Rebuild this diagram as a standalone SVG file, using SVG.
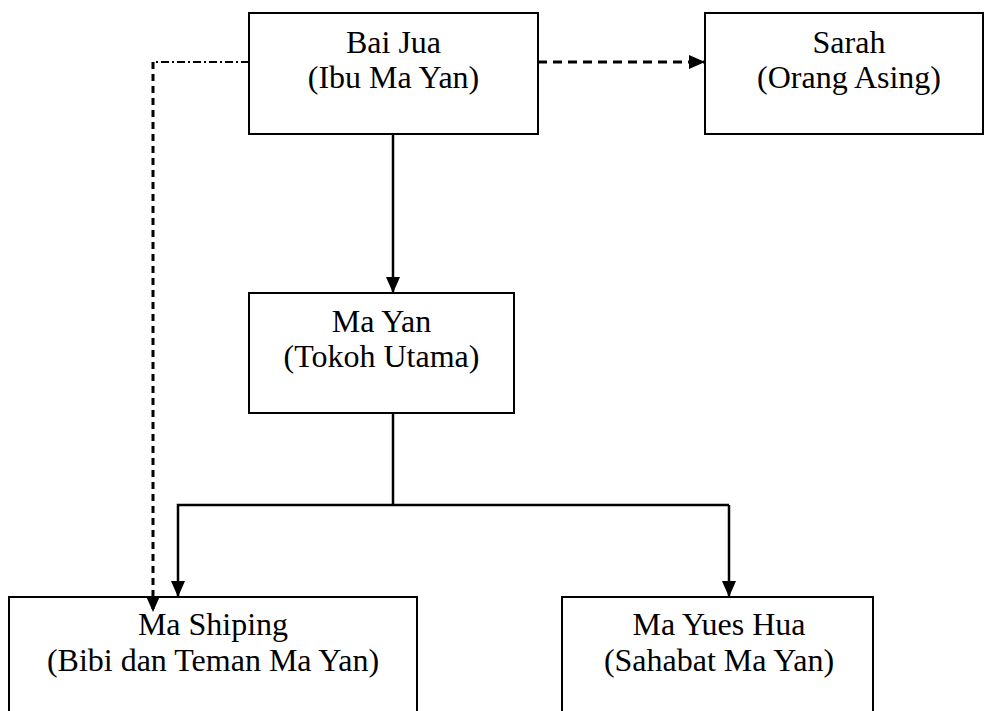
<svg xmlns="http://www.w3.org/2000/svg" width="984" height="711" viewBox="0 0 984 711">
<style>
.box{fill:#fff;stroke:#000;stroke-width:2}
.t{font-family:"Liberation Serif","Times New Roman",serif;font-size:32px;fill:#000;text-anchor:middle}
.c{fill:none;stroke:#000;stroke-width:2.5}
.dash{stroke-width:3;stroke-dasharray:7 5}
.dash2{stroke-width:3;stroke-dasharray:9 6}
.dd{stroke-width:2;stroke-dasharray:8 3 2 3}
</style>
<defs>
<marker id="ah" markerUnits="userSpaceOnUse" markerWidth="16" markerHeight="16" viewBox="0 0 16 16" refX="16" refY="8" orient="auto">
<path d="M0,1 L16,8 L0,15 Z" fill="#000"/>
</marker>
</defs>
<rect width="984" height="711" fill="#fff"/>
<g id="bai-jua">
<rect class="box" x="249" y="13" width="289" height="121"/>
<text class="t" x="393.5" y="53">Bai Jua</text>
<text class="t" x="393.5" y="88">(Ibu Ma Yan)</text>
</g>
<g id="sarah">
<rect class="box" x="705" y="13" width="278" height="121"/>
<text class="t" x="849" y="53">Sarah</text>
<text class="t" x="849" y="88">(Orang Asing)</text>
</g>
<g id="ma-yan">
<rect class="box" x="249" y="293" width="265" height="120"/>
<text class="t" x="381.5" y="332">Ma Yan</text>
<text class="t" x="381.5" y="367">(Tokoh Utama)</text>
</g>
<g id="ma-shiping">
<rect class="box" x="9" y="597" width="408" height="125"/>
<text class="t" x="213" y="635">Ma Shiping</text>
<text class="t" x="213" y="671">(Bibi dan Teman Ma Yan)</text>
</g>
<g id="ma-yues-hua">
<rect class="box" x="562" y="597" width="311" height="125"/>
<text class="t" x="719" y="635">Ma Yues Hua</text>
<text class="t" x="719" y="671">(Sahabat Ma Yan)</text>
</g>
<g id="connectors">
<path class="c" d="M393,134 L393,293" marker-end="url(#ah)"/>
<path class="c" d="M393,413 L393,505"/>
<path class="c" d="M729,505 L178,505 L178,597" marker-end="url(#ah)"/>
<path class="c" d="M729,505 L729,597" marker-end="url(#ah)"/>
<path class="c dash2" d="M538,62 L705,62" marker-end="url(#ah)"/>
<path class="c dd" d="M249,62 L153,62"/>
<path class="c dash" d="M153,62 L153,612" marker-end="url(#ah)"/>
</g>
</svg>
